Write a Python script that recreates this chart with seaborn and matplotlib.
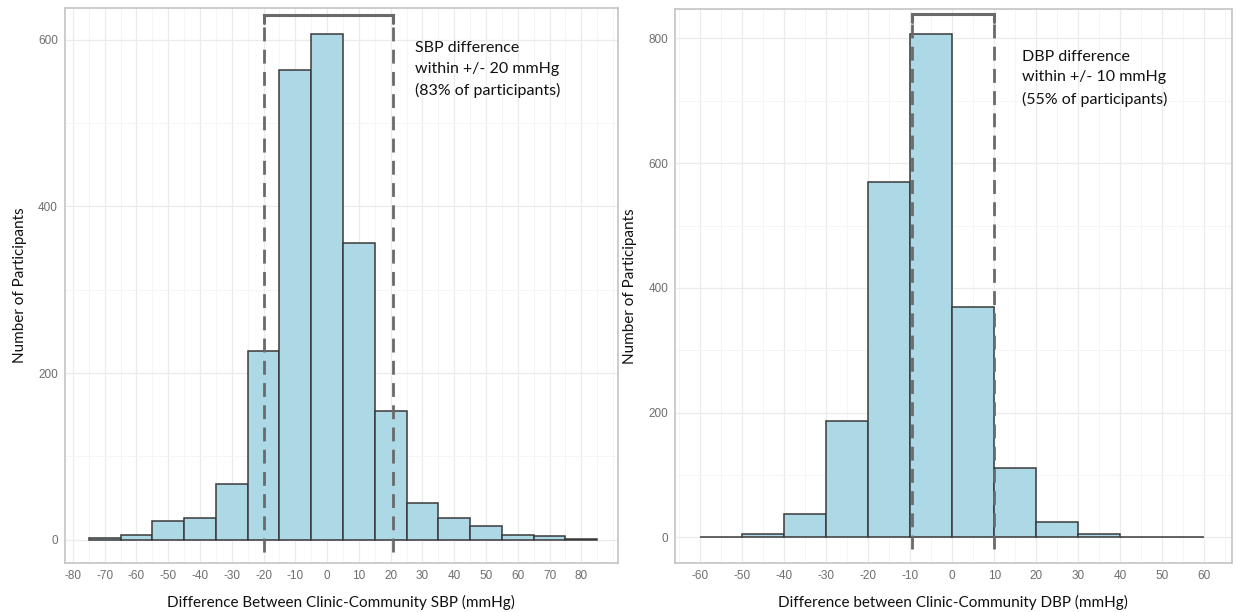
import numpy as np
import pandas as pd
import matplotlib
matplotlib.use("Agg")
import matplotlib.pyplot as plt
from matplotlib.ticker import MultipleLocator
import seaborn as sns

# SBP difference histogram (bin centres, counts)
sbp_centers = [-70, -60, -50, -40, -30, -20, -10, 0, 10, 20, 30, 40, 50, 60, 70, 80]
sbp_counts = [2, 6, 22, 26, 67, 226, 564, 607, 356, 154, 44, 26, 17, 6, 4, 1]
sbp_ticks = list(range(-80, 81, 10))
sbp_yticks = [0, 200, 400, 600]

# DBP difference histogram
dbp_centers = [-55, -45, -35, -25, -15, -5, 5, 15, 25, 35, 45, 55]
dbp_counts = [1, 6, 38, 186, 570, 808, 370, 112, 24, 6, 1, 0]
dbp_ticks = list(range(-60, 61, 10))
dbp_yticks = [0, 200, 400, 600, 800]

sbp_note = "SBP difference\nwithin +/- 20 mmHg\n(83% of participants)"
dbp_note = "DBP difference\nwithin +/- 10 mmHg\n(55% of participants)"

sns.set_style("white")
plt.rcParams['font.family'] = ['Lato', 'DejaVu Sans']
plt.rcParams['axes.unicode_minus'] = False

fig = plt.figure(figsize=(12.37, 6.12), dpi=100)
ax1 = fig.add_axes([0.0525, 0.080, 0.447, 0.907])
ax2 = fig.add_axes([0.5457, 0.080, 0.450, 0.905])

fill = '#add8e6'
edge = '#3a3a3a'
line_col = '#6a6a6a'


def style_axis(ax, xticks, yticks):
    ax.set_xticks(xticks)
    ax.set_yticks(yticks)
    ax.xaxis.set_minor_locator(MultipleLocator(5))
    ax.yaxis.set_minor_locator(MultipleLocator(100))
    ax.grid(which='major', color='#ebebeb', lw=0.9)
    ax.grid(which='minor', color='#f4f4f4', lw=0.6)
    ax.set_axisbelow(True)
    for s in ax.spines.values():
        s.set_color('#c4c4c4')
        s.set_linewidth(1.2)
    ax.tick_params(which='major', length=3, width=0.8, color='#888888',
                   labelcolor='#6e6e6e', labelsize=8.5, pad=2)
    ax.tick_params(which='minor', length=0)
    for lab in ax.get_xticklabels() + ax.get_yticklabels():
        lab.set_family('Liberation Sans')
    ax.set_ylabel('Number of Participants', fontsize=11, color='#111111', labelpad=8)


def bracket(ax, x1, x2, ybot, ytop, tick):
    ax.plot([x1, x1], [ybot, ytop - tick], color=line_col, lw=2, ls=(0, (5, 3)))
    ax.plot([x2, x2], [ybot, ytop - tick], color=line_col, lw=2, ls=(0, (5, 3)))
    ax.plot([x1, x1, x2, x2], [ytop - tick, ytop, ytop, ytop - tick], color=line_col, lw=2.2,
            solid_joinstyle='miter')


# left panel
df1 = pd.DataFrame({'diff': sbp_centers, 'n': sbp_counts})
sns.histplot(data=df1, x='diff', weights='n', binwidth=10, binrange=(-75, 85),
             color=fill, alpha=1, edgecolor=edge, linewidth=1.1, ax=ax1)
style_axis(ax1, sbp_ticks, sbp_yticks)
ax1.set_xlim(-82.5, 91.5)
ax1.set_ylim(-28, 638)
bracket(ax1, -20, 20.8, -15, 630, 10)
ax1.text(27.5, 598, sbp_note, fontsize=11.5, va='top', ha='left', linespacing=1.6, color='#111111')
ax1.set_xlabel('Difference Between Clinic-Community SBP (mmHg)', fontsize=11,
               color='#111111', labelpad=9)

# right panel
df2 = pd.DataFrame({'diff': dbp_centers, 'n': dbp_counts})
sns.histplot(data=df2, x='diff', weights='n', binwidth=10, binrange=(-60, 60),
             color=fill, alpha=1, edgecolor=edge, linewidth=1.1, ax=ax2)
style_axis(ax2, dbp_ticks, dbp_yticks)
ax2.set_xlim(-66, 66.5)
ax2.set_ylim(-41, 847)
bracket(ax2, -9.6, 10, -18, 840, 14)
ax2.text(16.5, 782, dbp_note, fontsize=11.5, va='top', ha='left', linespacing=1.6, color='#111111')
ax2.set_xlabel('Difference between Clinic-Community DBP (mmHg)', fontsize=11,
               color='#111111', labelpad=9)

fig.savefig('out.png', dpi=100)
